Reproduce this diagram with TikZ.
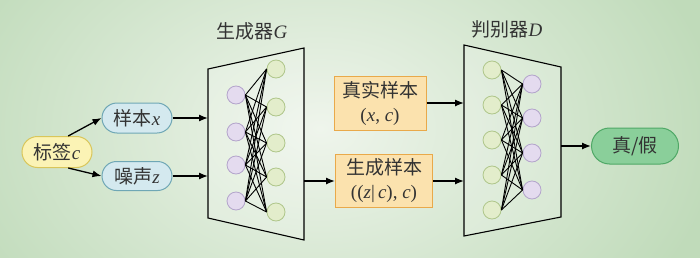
\documentclass[tikz,border=0pt]{standalone}
\usepackage{fontspec}
\setmainfont{Liberation Serif}
\newfontfamily\cjk{Noto Sans CJK SC}
\newcommand{\lv}[1]{{\normalfont\itshape #1}}
\usetikzlibrary{arrows.meta,shapes.misc,calc}
\definecolor{bgout}{HTML}{C0DBBA}
\definecolor{bgin}{HTML}{EFF5EC}
\definecolor{txt}{HTML}{333333}
\definecolor{ylwfill}{HTML}{FBF3B5}
\definecolor{ylwdraw}{HTML}{D9C65A}
\definecolor{bluefill}{HTML}{D4E9EF}
\definecolor{bluedraw}{HTML}{6FA7B5}
\definecolor{orgfill}{HTML}{FBE2AE}
\definecolor{orgdraw}{HTML}{E9A94A}
\definecolor{grnfill}{HTML}{8ACF9A}
\definecolor{grndraw}{HTML}{4FA866}
\definecolor{purfill}{HTML}{E4DBEF}
\definecolor{purdraw}{HTML}{B3A4CB}
\definecolor{limfill}{HTML}{E3EDCB}
\definecolor{limdraw}{HTML}{AFC68A}
\begin{document}
\begin{tikzpicture}[x=1pt,y=-1pt,
  pill/.style={rounded rectangle, draw, line width=1pt, text=txt, inner sep=0pt,
     font=\fontsize{19}{22}\selectfont},
  sbox/.style={rectangle, draw=orgdraw, fill=orgfill, line width=1pt, text=txt,
     inner sep=0pt, align=center, font=\fontsize{19}{24}\selectfont},
  neuP/.style={circle, draw=purdraw, fill=purfill, line width=0.8pt, minimum size=18pt, inner sep=0pt},
  neuG/.style={circle, draw=limdraw, fill=limfill, line width=0.8pt, minimum size=18pt, inner sep=0pt},
  arr/.style={line width=1.3pt, -{Latex[length=9pt,width=7pt]}},
  wire/.style={line width=0.9pt, black},
  trap/.style={line width=1.1pt, black, fill=white, fill opacity=0.18},
  ttl/.style={text=txt, font=\fontsize{19}{22}\selectfont, inner sep=0pt}
]
\useasboundingbox (0,0) rectangle (700,257);
\shade[inner color=bgin, outer color=bgout] (-80,-150) rectangle (720,407);

% inputs
\node[pill, fill=ylwfill, draw=ylwdraw, minimum width=70pt, minimum height=31pt] (c) at (57,152) {\cjk 标签\lv{c}};
\node[pill, fill=bluefill, draw=bluedraw, minimum width=70pt, minimum height=30pt] (x) at (137,118) {\cjk 样本\lv{x}};
\node[pill, fill=bluefill, draw=bluedraw, minimum width=70pt, minimum height=29pt] (z) at (137,176) {\cjk 噪声\lv{z}};
\draw[arr] (c.55) -- (x.west);
\draw[arr] (c.-55) -- (z.west);

% generator
\coordinate (G1) at (208,69);
\coordinate (G2) at (304,48);
\coordinate (G3) at (304,240);
\coordinate (G4) at (208,218);
\draw[trap] (G1) -- (G2) -- (G3) -- (G4) -- cycle;
\node[ttl] (gt) at (252,31) {\cjk 生成器\lv{G}};
\foreach \i/\y in {1/95,2/132,3/165,4/201} \node[neuP] (gp\i) at (236,\y) {};
\foreach \j/\y in {1/69,2/107,3/143,4/177,5/212} \node[neuG] (gg\j) at (276,\y) {};
\foreach \i in {1,...,4} \foreach \j in {1,...,5} \draw[wire] (gp\i.east) -- (gg\j.west);

\coordinate (Gin1) at (208,118);
\coordinate (Gin2) at (208,176);
\draw[arr] (x.east) -- (Gin1);
\draw[arr] (z.east) -- (Gin2);

% samples
\node[sbox, minimum width=92pt, minimum height=54pt] (real) at (380,103) {\cjk 真实样本\\(\lv{x}, \lv{c})};
\node[sbox, minimum width=97pt, minimum height=53pt] (gen) at (384,181) {\cjk 生成样本\\((\lv{z}|\,\lv{c}), \lv{c})};
\coordinate (Gout) at (304,181);
\draw[arr] (Gout) -- (gen.west);

% discriminator
\coordinate (D1) at (464,45);
\coordinate (D2) at (561,67);
\coordinate (D3) at (561,217);
\coordinate (D4) at (464,236);
\draw[trap] (D1) -- (D2) -- (D3) -- (D4) -- cycle;
\node[ttl] (dt) at (507,29) {\cjk 判别器\lv{D}};
\foreach \i/\y in {1/70,2/105,3/140,4/175,5/210} \node[neuG] (dg\i) at (492,\y) {};
\foreach \j/\y in {1/84,2/118,3/153,4/190} \node[neuP] (dp\j) at (532,\y) {};
\foreach \i in {1,...,5} \foreach \j in {1,...,4} \draw[wire] (dg\i.east) -- (dp\j.west);

\coordinate (Din1) at (464,103);
\coordinate (Din2) at (464,181);
\draw[arr] (real.east) -- (Din1);
\draw[arr] (gen.east) -- (Din2);

% output
\node[pill, fill=grnfill, draw=grndraw, minimum width=87pt, minimum height=36pt] (out) at (635,146) {\cjk 真/假};
\coordinate (Dout) at (561,146);
\draw[arr] (Dout) -- (out.west);
\end{tikzpicture}
\end{document}
